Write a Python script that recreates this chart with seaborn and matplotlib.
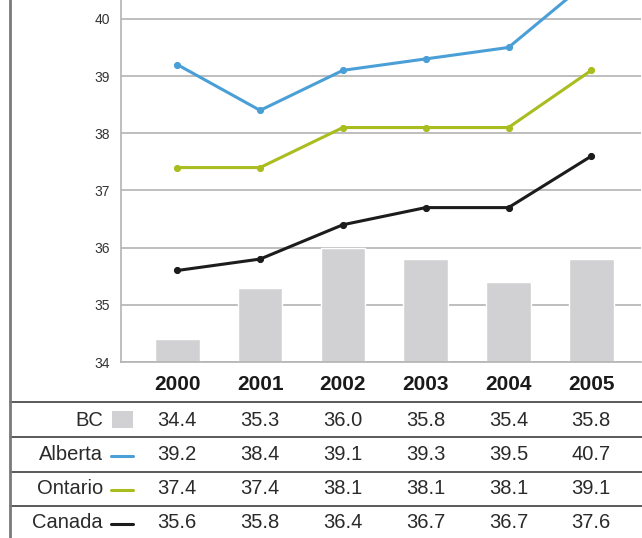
import matplotlib
matplotlib.use("Agg")
import matplotlib.pyplot as plt
import matplotlib.transforms as mtransforms
from matplotlib.lines import Line2D
from matplotlib.patches import Rectangle
import seaborn as sns
import pandas as pd

years = ["2000", "2001", "2002", "2003", "2004", "2005"]
bc = [34.4, 35.3, 36.0, 35.8, 35.4, 35.8]
alberta = [39.2, 38.4, 39.1, 39.3, 39.5, 40.7]
ontario = [37.4, 37.4, 38.1, 38.1, 38.1, 39.1]
canada = [35.6, 35.8, 36.4, 36.7, 36.7, 37.6]
yticks = [34, 35, 36, 37, 38, 39, 40]

bar_color = "#d1d1d3"
colors = {"Alberta": "#4a9fd6", "Ontario": "#a9bd1f", "Canada": "#1c1c1c"}

sns.set_theme(style="white")
plt.rcParams["font.family"] = ["Liberation Sans Narrow", "Liberation Sans", "DejaVu Sans"]

fig = plt.figure(figsize=(6.42, 5.38), dpi=100)
W, H = 642, 538
ax = fig.add_axes([121 / W, 1 - 362 / H, (641 - 121) / W, 362 / H])

df = pd.DataFrame({"year": years, "BC": bc, "Alberta": alberta,
                   "Ontario": ontario, "Canada": canada})

sns.barplot(data=df, x="year", y="BC", color=bar_color, width=0.54,
            saturation=1, ax=ax, zorder=2)
for name in ["Alberta", "Ontario", "Canada"]:
    sns.pointplot(data=df, x="year", y=name, color=colors[name], ax=ax,
                  markers="o", markersize=3.5, linewidth=2.2, zorder=3)

ax.set_ylim(34, 40.33)
ax.set_xlim(-0.68, 5.6)
ax.set_yticks(yticks)
ax.set_yticklabels([str(t) for t in yticks], fontsize=10, color="#333333")
ax.tick_params(axis="y", length=0, pad=8)
ax.set_xticks([])
ax.set_xlabel("")
ax.set_ylabel("")
ax.grid(axis="y", color="#b3b3b3", linewidth=1.2, zorder=0)
ax.set_axisbelow(True)
for side in ["top", "right"]:
    ax.spines[side].set_visible(False)
for side in ["left", "bottom"]:
    ax.spines[side].set_color("#b3b3b3")
    ax.spines[side].set_linewidth(1.2)

# Data table beneath the chart, columns aligned to the category axis
trans = mtransforms.blended_transform_factory(ax.transData, fig.transFigure)

def fy(py):
    return 1 - py / H

for i, yr in enumerate(years):
    fig.text(i, fy(385), yr, transform=trans, ha="center", va="center",
             fontsize=15, fontweight="bold", color="#1a1a1a")

rows = [("BC", bc), ("Alberta", alberta), ("Ontario", ontario), ("Canada", canada)]
row_y = [420, 455, 489, 523]
for (name, vals), py in zip(rows, row_y):
    fig.text(103 / W, fy(py), name, ha="right", va="center",
             fontsize=14.5, color="#2a2a2a")
    for i, v in enumerate(vals):
        fig.text(i, fy(py), f"{v:.1f}", transform=trans, ha="center",
                 va="center", fontsize=14.5, color="#2a2a2a")
    if name == "BC":
        fig.patches.append(Rectangle((112 / W, fy(428)), 21 / W, 17 / H,
                                     transform=fig.transFigure,
                                     facecolor=bar_color, edgecolor="none"))
    else:
        fig.lines.append(Line2D([111 / W, 133 / W], [fy(py + 1), fy(py + 1)],
                                transform=fig.transFigure,
                                color=colors[name], linewidth=2.2))

for py in [402, 437, 472, 506]:
    fig.lines.append(Line2D([10 / W, 1.0], [fy(py), fy(py)],
                            transform=fig.transFigure,
                            color="#4d4d4d", linewidth=1.3))

fig.lines.append(Line2D([10 / W, 10 / W], [0, 1], transform=fig.transFigure,
                        color="#7a7a7a", linewidth=2))

fig.savefig("out.png", dpi=100)
